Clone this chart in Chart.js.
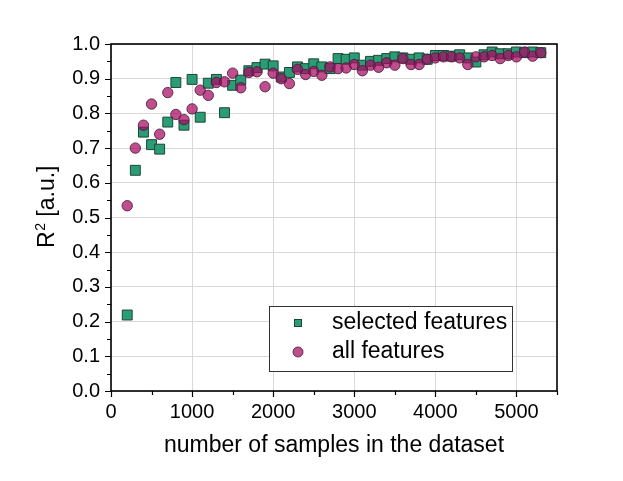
<!DOCTYPE html>
<html>
<head>
<meta charset="utf-8">
<script src="https://cdn.jsdelivr.net/npm/chart.js@4/dist/chart.umd.min.js"></script>
<style>
html,body{margin:0;padding:0;background:#fff;}
canvas{display:block;}
</style>
</head>
<body>
<canvas id="c" width="623" height="481"></canvas>
<script>
const samples = [200,300,400,500,600,700,800,900,1000,1100,1200,1300,1400,1500,1600,1700,1800,1900,2000,2100,2200,2300,2400,2500,2600,2700,2800,2900,3000,3100,3200,3300,3400,3500,3600,3700,3800,3900,4000,4100,4200,4300,4400,4500,4600,4700,4800,4900,5000,5100,5200,5300];
const selectedFeatures = [0.219,0.636,0.746,0.710,0.697,0.775,0.889,0.766,0.898,0.789,0.887,0.898,0.802,0.881,0.896,0.923,0.932,0.942,0.937,0.905,0.918,0.934,0.929,0.943,0.934,0.929,0.958,0.956,0.960,0.939,0.950,0.953,0.958,0.963,0.960,0.956,0.960,0.956,0.967,0.967,0.965,0.969,0.960,0.948,0.969,0.977,0.972,0.972,0.977,0.975,0.977,0.975];
const allFeatures = [0.534,0.700,0.766,0.827,0.740,0.860,0.797,0.782,0.813,0.867,0.852,0.889,0.891,0.916,0.874,0.918,0.920,0.877,0.916,0.900,0.886,0.927,0.912,0.921,0.910,0.934,0.929,0.931,0.941,0.923,0.939,0.933,0.946,0.939,0.958,0.941,0.941,0.956,0.960,0.963,0.963,0.960,0.941,0.963,0.963,0.967,0.958,0.967,0.963,0.977,0.965,0.975];
const seriesNames = ["selected features","all features"];
const xTickValues = [0,1000,2000,3000,4000,5000];
const yTickValues = [0.0,0.1,0.2,0.3,0.4,0.5,0.6,0.7,0.8,0.9,1.0];
const xTitle = "number of samples in the dataset";

const FONT = '"Liberation Sans", Arial, sans-serif';
const sqFill = 'rgb(42,156,118)';
const sqBorder = 'rgb(30,70,55)';
const ciFill = 'rgba(168,10,100,0.72)';
const ciBorder = 'rgba(70,30,55,0.85)';

const toPts = (ys) => samples.map((x,i)=>({x:x,y:ys[i]}));

const deco = {
  id:'deco',
  afterDatasetsDraw(chart){
    const ctx = chart.ctx, a = chart.chartArea;
    const xs = chart.scales.x, ys = chart.scales.y;
    ctx.save();
    // frame
    ctx.strokeStyle = '#000';
    ctx.lineWidth = 1.6;
    ctx.strokeRect(a.left, a.top, a.right-a.left, a.bottom-a.top);
    // ticks (major + minor)
    ctx.lineWidth = 1.2;
    ctx.beginPath();
    for (let k=0; k<=11; k++){
      const v = k*500;
      const px = Math.round(xs.getPixelForValue(v))+0.5;
      const len = (k%2===0)?6:4;
      ctx.moveTo(px, a.bottom); ctx.lineTo(px, a.bottom+len);
    }
    for (let k=0; k<=20; k++){
      const v = k*0.05;
      const py = Math.round(ys.getPixelForValue(v))+0.5;
      const len = (k%2===0)?6:4;
      ctx.moveTo(a.left, py); ctx.lineTo(a.left-len, py);
    }
    ctx.stroke();
    // x title
    ctx.fillStyle = '#000';
    ctx.font = '23px ' + FONT;
    ctx.textAlign = 'center';
    ctx.textBaseline = 'alphabetic';
    ctx.fillText(xTitle, (a.left+a.right)/2, 452);
    // y title: R² [a.u.]
    ctx.save();
    ctx.translate(54, 207);
    ctx.rotate(-Math.PI/2);
    ctx.textAlign = 'left';
    const big = '23px ' + FONT, small = '14px ' + FONT;
    ctx.font = big; const wR = ctx.measureText('R').width;
    ctx.font = small; const w2 = ctx.measureText('2').width;
    ctx.font = big; const wRest = ctx.measureText(' [a.u.]').width;
    let x0 = -(wR+w2+wRest)/2;
    ctx.font = big; ctx.fillText('R', x0, 0);
    ctx.font = small; ctx.fillText('2', x0+wR+0.5, -9);
    ctx.font = big; ctx.fillText(' [a.u.]', x0+wR+w2+0.5, 0);
    ctx.restore();
    // legend
    const bx=269, by=306, bw=243, bh=65;
    ctx.fillStyle = '#fff';
    ctx.fillRect(bx,by,bw,bh);
    ctx.strokeStyle = '#333';
    ctx.lineWidth = 1;
    ctx.strokeRect(bx+0.5,by+0.5,bw,bh);
    ctx.fillStyle = sqFill; ctx.strokeStyle = sqBorder; ctx.lineWidth=1;
    ctx.fillRect(294,319,8,8); ctx.strokeRect(294.5,319.5,7,7);
    ctx.beginPath(); ctx.arc(298,352,5,0,Math.PI*2);
    ctx.fillStyle = ciFill; ctx.fill(); ctx.strokeStyle = ciBorder; ctx.stroke();
    ctx.fillStyle = '#000';
    ctx.font = '23px ' + FONT;
    ctx.textAlign = 'left';
    ctx.textBaseline = 'middle';
    ctx.fillText(seriesNames[0], 332, 323);
    ctx.fillText(seriesNames[1], 332, 352);
    ctx.restore();
  }
};

new Chart(document.getElementById('c'), {
  type:'scatter',
  data:{
    datasets:[
      {label:seriesNames[0], data:toPts(selectedFeatures), pointStyle:'rect', pointRadius:7, pointBorderWidth:1,
       backgroundColor:sqFill, borderColor:sqBorder, order:2},
      {label:seriesNames[1], data:toPts(allFeatures), pointStyle:'circle', pointRadius:5.2, pointBorderWidth:1,
       backgroundColor:ciFill, borderColor:ciBorder, order:1}
    ]
  },
  options:{
    responsive:false,
    animation:false,
    events:[],
    layout:{padding:{left:0,right:66,top:44,bottom:0}},
    plugins:{legend:{display:false}, tooltip:{enabled:false}},
    scales:{
      x:{
        type:'linear', min:0, max:5500,
        afterFit(s){ s.height = 90; },
        afterBuildTicks(s){ s.ticks = xTickValues.map(v=>({value:v})); },
        border:{display:false},
        grid:{drawTicks:false, color:'#d9d9d9', lineWidth:1},
        ticks:{autoSkip:false, maxRotation:0, padding:9, color:'#000', font:{family:FONT, size:20},
          callback:(v)=> String(v)}
      },
      y:{
        type:'linear', min:0, max:1,
        afterFit(s){ s.width = 111; },
        afterBuildTicks(s){ s.ticks = yTickValues.map(v=>({value:v})); },
        border:{display:false},
        grid:{drawTicks:false, color:'#d9d9d9', lineWidth:1},
        ticks:{autoSkip:false, padding:11, color:'#000', font:{family:FONT, size:20},
          callback:(v)=> Number(v).toFixed(1)}
      }
    }
  },
  plugins:[deco]
});
</script>
</body>
</html>
